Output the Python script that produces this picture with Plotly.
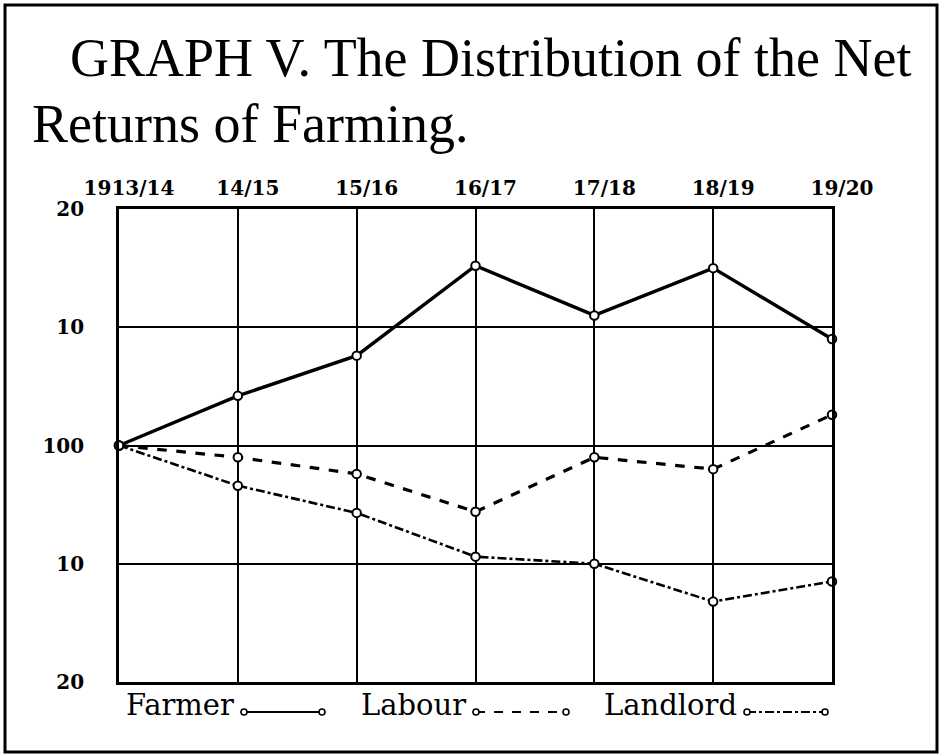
import plotly.graph_objects as go

# ---- data ----
years = ["1913/14", "14/15", "15/16", "16/17", "17/18", "18/19", "19/20"]
farmer = [100, 104.2, 107.6, 115.2, 111.0, 115.0, 109.0]
labour = [100, 99.0, 97.6, 94.4, 99.0, 98.0, 102.6]
landlord = [100, 96.6, 94.3, 90.6, 90.0, 86.8, 88.5]
y_tickvals = [120, 110, 100, 90, 80]
y_ticktext = ["20", "10", "100", "10", "20"]
series_names = ["Farmer", "Labour", "Landlord"]

W, H = 947, 755
L, R, T, B = 119, 115, 209, 73
PW, PH = W - L - R, H - T - B

TITLE_FONT = "Liberation Serif"
FONT = "DejaVu Serif"
INK = "black"


def px(xp):
    return (xp - L) / PW


def py(yp):
    return (H - B - yp) / PH


fig = go.Figure()
styles = [("solid", 3.4), ("dash", 3.2), ("dashdot", 2.6)]
for name, vals, (dash, w) in zip(series_names, [farmer, labour, landlord], styles):
    fig.add_trace(go.Scatter(
        x=years, y=vals, name=name, mode="lines+markers",
        line=dict(color=INK, width=w, dash=dash),
        marker=dict(symbol="circle", size=8.5, color="white",
                    line=dict(color=INK, width=2)),
        showlegend=False, cliponaxis=False,
    ))

axis_font = dict(family=FONT, size=20, color=INK, weight="bold")
fig.update_layout(
    width=W, height=H,
    margin=dict(l=L, r=R, t=T, b=B),
    paper_bgcolor="white", plot_bgcolor="white",
    xaxis=dict(
        type="category", range=[0, 6], side="top",
        showgrid=True, gridcolor=INK, gridwidth=1.8,
        showline=True, linecolor=INK, linewidth=2.6, mirror=True,
        ticks="", tickfont=axis_font, ticklabelstandoff=3, ticklabelshift=10,
        zeroline=False,
    ),
    yaxis=dict(
        range=[80, 120], tickvals=y_tickvals, ticktext=y_ticktext,
        showgrid=True, gridcolor=INK, gridwidth=1.8,
        showline=True, linecolor=INK, linewidth=2.6, mirror=True,
        ticks="", tickfont=axis_font, ticklabelstandoff=28,
        zeroline=False,
    ),
    yaxis2=dict(
        range=[80, 120], tickvals=y_tickvals, ticktext=y_ticktext,
        overlaying="y", side="right", showgrid=False, showline=False,
        ticks="", tickfont=axis_font, ticklabelstandoff=24,
        zeroline=False,
    ),
)

annotations = [
    dict(text="GRAPH V. The Distribution of the Net", x=px(68), y=py(58),
         xanchor="left", yanchor="middle", font=dict(family=TITLE_FONT, size=54, color=INK)),
    dict(text="Returns of Farming.", x=px(30), y=py(124),
         xanchor="left", yanchor="middle", font=dict(family=TITLE_FONT, size=54, color=INK)),
]

legend_text_y = py(705)
legend_line_y = 712
legend_line_x = [(244, 322), (476, 566), (747, 825)]
legend_dash = ["solid", "dash", "dashdot"]
shapes = [
    dict(type="rect", xref="paper", yref="paper",
         x0=px(5), x1=px(937), y0=py(752), y1=py(5),
         line=dict(color=INK, width=3)),
]
for name, (x0, x1), dash in zip(series_names, legend_line_x, legend_dash):
    annotations.append(dict(text=name, x=px(x0 - 8), y=legend_text_y, xanchor="right", yanchor="middle",
                            font=dict(family=FONT, size=29, color=INK)))
    shapes.append(dict(type="line", xref="paper", yref="paper",
                       x0=px(x0), x1=px(x1), y0=py(legend_line_y), y1=py(legend_line_y),
                       line=dict(color=INK, width=2.2, dash=dash)))
    for cx in (x0, x1):
        shapes.append(dict(type="circle", xref="paper", yref="paper",
                           x0=px(cx - 3), x1=px(cx + 3),
                           y0=py(legend_line_y + 3), y1=py(legend_line_y - 3),
                           fillcolor="white", line=dict(color=INK, width=1.6)))

for a in annotations:
    a.update(xref="paper", yref="paper", showarrow=False)
fig.update_layout(annotations=annotations, shapes=shapes)

fig.write_html("out.html", config={"displayModeBar": False},
               post_script="document.body.style.margin='0px';document.body.style.overflow='hidden';")
